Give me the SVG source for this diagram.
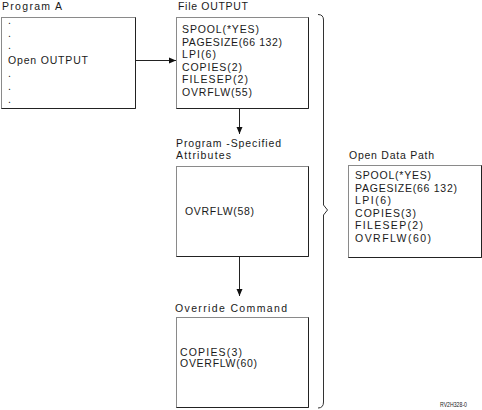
<svg xmlns="http://www.w3.org/2000/svg" width="482" height="410" viewBox="0 0 482 410">
<style>
text{font-family:"Liberation Sans",Arial,sans-serif;font-size:10.5px;fill:#1a1a1a}
.box{fill:#fff;stroke:#8a8a8a;stroke-width:1}
.shade{fill:none;stroke:#222;stroke-width:1}
.conn{fill:none;stroke:#222;stroke-width:1}
.brace{fill:none;stroke:#333;stroke-width:1}
.id{font-size:6.5px}
</style>
<defs>
<marker id="ah" markerWidth="8" markerHeight="8" refX="7" refY="3.5" orient="auto" markerUnits="userSpaceOnUse">
<path d="M0,0.5 L7,3.5 L0,6.5 Z" fill="#111"/>
</marker>
</defs>
<rect width="482" height="410" fill="#fff"/>

<g id="programA">
<text x="2" y="10" textLength="60" lengthAdjust="spacing">Program A</text>
<rect class="box" x="1.5" y="17.5" width="134" height="91"/>
<path class="shade" d="M135.5,17.5 V108.5 H1.5"/>
<text x="8" y="24">.</text>
<text x="8" y="36.5">.</text>
<text x="8" y="49">.</text>
<text x="8" y="64" textLength="80" lengthAdjust="spacing">Open OUTPUT</text>
<text x="8" y="77">.</text>
<text x="8" y="90">.</text>
<text x="8" y="103">.</text>
</g>

<g id="fileOutput">
<text x="178" y="10" textLength="70" lengthAdjust="spacing">File OUTPUT</text>
<rect class="box" x="176.5" y="17.5" width="132" height="91"/>
<path class="shade" d="M308.5,17.5 V108.5 H176.5"/>
<text x="182" y="33" textLength="77" lengthAdjust="spacing">SPOOL(*YES)</text>
<text x="182" y="45.5" textLength="100" lengthAdjust="spacing">PAGESIZE(66 132)</text>
<text x="182" y="58" textLength="34" lengthAdjust="spacing">LPI(6)</text>
<text x="182" y="70.5" textLength="60" lengthAdjust="spacing">COPIES(2)</text>
<text x="182" y="83" textLength="66" lengthAdjust="spacing">FILESEP(2)</text>
<text x="182" y="95.5" textLength="70" lengthAdjust="spacing">OVRFLW(55)</text>
</g>

<g id="programSpecified">
<text x="176" y="147" textLength="105" lengthAdjust="spacing">Program -Specified</text>
<text x="176" y="159" textLength="55" lengthAdjust="spacing">Attributes</text>
<rect class="box" x="176.5" y="166.5" width="132" height="90"/>
<path class="shade" d="M308.5,166.5 V256.5 H176.5"/>
<text x="185" y="215" textLength="69" lengthAdjust="spacing">OVRFLW(58)</text>
</g>

<g id="overrideCommand">
<text x="175" y="312" textLength="112" lengthAdjust="spacing">Override Command</text>
<rect class="box" x="176.5" y="317.5" width="132" height="90"/>
<path class="shade" d="M308.5,317.5 V407.5 H176.5"/>
<text x="180" y="356" textLength="62" lengthAdjust="spacing">COPIES(3)</text>
<text x="180" y="367" textLength="77" lengthAdjust="spacing">OVERFLW(60)</text>
</g>

<g id="openDataPath">
<text x="349" y="159" textLength="85" lengthAdjust="spacing">Open Data Path</text>
<rect class="box" x="348.5" y="165.5" width="133" height="92"/>
<path class="shade" d="M481.5,165.5 V257.5 H348.5"/>
<text x="355" y="179" textLength="76" lengthAdjust="spacing">SPOOL(*YES)</text>
<text x="355" y="191.5" textLength="102" lengthAdjust="spacing">PAGESIZE(66 132)</text>
<text x="355" y="204" textLength="36" lengthAdjust="spacing">LPI(6)</text>
<text x="355" y="216.5" textLength="61" lengthAdjust="spacing">COPIES(3)</text>
<text x="355" y="229" textLength="68" lengthAdjust="spacing">FILESEP(2)</text>
<text x="355" y="241.5" textLength="76" lengthAdjust="spacing">OVRFLW(60)</text>
</g>

<g id="connectors">
<path class="conn" d="M135.5,60.5 H176" marker-end="url(#ah)"/>
<path class="conn" d="M239.5,108.5 V134" marker-end="url(#ah)"/>
<path class="conn" d="M239.5,256.5 V296" marker-end="url(#ah)"/>
<path class="brace" d="M318,14.5 Q323.5,14.5 323.5,20 V205 L327.5,210 L323.5,215 V402 Q323.5,408 318,408"/>
</g>

<text class="id" x="440" y="407" textLength="27" lengthAdjust="spacingAndGlyphs">RV2H328-0</text>
</svg>
